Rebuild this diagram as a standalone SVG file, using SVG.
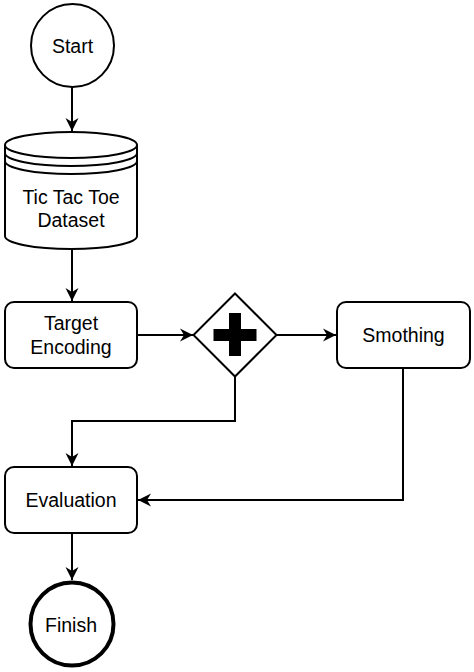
<svg xmlns="http://www.w3.org/2000/svg" width="474" height="672" viewBox="0 0 474 672">
<style>
.s{fill:#fff;stroke:#000;stroke-width:2}
.t{font-family:"Liberation Sans",Arial,sans-serif;font-size:19.5px;fill:#000;text-anchor:middle}
.c{fill:none;stroke:#000;stroke-width:2}
</style>
<defs>
<marker id="a" markerUnits="userSpaceOnUse" markerWidth="14" markerHeight="14" viewBox="0 0 14 14" refX="13" refY="7" orient="auto">
<path d="M0,0.5 L13,7 L0,13.5 L4,7 Z" fill="#000"/>
</marker>
</defs>
<rect width="474" height="672" fill="#fff"/>
<g id="connectors">
<path class="c" d="M72,87 L72,131" marker-end="url(#a)"/>
<path class="c" d="M72,249 L72,301" marker-end="url(#a)"/>
<path class="c" d="M137,335 L193,335" marker-end="url(#a)"/>
<path class="c" d="M276,335 L336,335" marker-end="url(#a)"/>
<path class="c" d="M235,376 L235,421 L72,421 L72,466" marker-end="url(#a)"/>
<path class="c" d="M403,368 L403,500 L138,500" marker-end="url(#a)"/>
<path class="c" d="M72,533 L72,580" marker-end="url(#a)"/>
</g>
<g id="start">
<circle class="s" cx="72.5" cy="45.5" r="41.5"/>
<text class="t" x="72.5" y="52.5">Start</text>
</g>
<g id="dataset">
<path class="s" d="M5,145 A66,13 0 0 1 137,145 L137,236 A66,13 0 0 1 5,236 Z"/>
<path class="c" d="M5,145 A66,13 0 0 0 137,145 M5,153 A66,13 0 0 0 137,153 M5,161 A66,13 0 0 0 137,161"/>
<text class="t" x="71" y="204">Tic Tac Toe</text>
<text class="t" x="71" y="227">Dataset</text>
</g>
<g id="target-encoding">
<rect class="s" x="5" y="302" width="132" height="66" rx="9"/>
<text class="t" x="71" y="330">Target</text>
<text class="t" x="71" y="354">Encoding</text>
</g>
<g id="gateway">
<path class="s" d="M235,293.5 L276.5,335 L235,376.5 L193.5,335 Z"/>
<path d="M229,313 H241 V329 H256.5 V341 H241 V356 H229 V341 H213.5 V329 H229 Z" fill="#000"/>
</g>
<g id="smothing">
<rect class="s" x="337" y="302" width="133" height="66" rx="9"/>
<text class="t" x="403.5" y="342">Smothing</text>
</g>
<g id="evaluation">
<rect class="s" x="5" y="467" width="132" height="66" rx="9"/>
<text class="t" x="71" y="507">Evaluation</text>
</g>
<g id="finish">
<circle cx="72" cy="624" r="41.5" fill="#fff" stroke="#000" stroke-width="4"/>
<text class="t" x="71" y="631.5">Finish</text>
</g>
</svg>
